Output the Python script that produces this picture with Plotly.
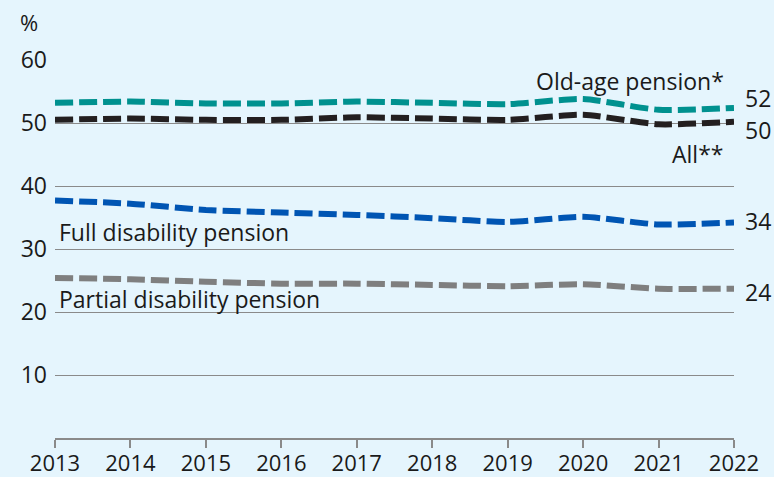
import plotly.graph_objects as go

years = [2013, 2014, 2015, 2016, 2017, 2018, 2019, 2020, 2021, 2022]
old_age = [53.2, 53.4, 53.1, 53.1, 53.4, 53.2, 53.0, 53.8, 52.1, 52.4]
all_pensions = [50.5, 50.7, 50.5, 50.5, 50.9, 50.7, 50.5, 51.3, 49.8, 50.2]
full_disability = [37.7, 37.2, 36.2, 35.8, 35.4, 34.9, 34.3, 35.1, 33.9, 34.2]
partial_disability = [25.4, 25.2, 24.8, 24.5, 24.5, 24.3, 24.1, 24.4, 23.7, 23.7]
end_labels = ["52", "50", "34", "24"]
y_ticks = [10, 20, 30, 40, 50, 60]

FONT = "Open Sans"
BG = "#e5f5fd"
TXT = "#1a1a1a"
SIZE = 23

series = [
    ("Old-age pension*", old_age, "#00918f"),
    ("All**", all_pensions, "#231f20"),
    ("Full disability pension", full_disability, "#0055b3"),
    ("Partial disability pension", partial_disability, "#7f7f7f"),
]

fig = go.Figure()
for name, vals, color in series:
    fig.add_trace(
        go.Scatter(
            x=years,
            y=vals,
            name=name,
            mode="lines",
            line=dict(color=color, width=6, dash="18px,6px", shape="spline", smoothing=0.6),
            showlegend=False,
            hoverinfo="skip",
            cliponaxis=False,
        )
    )

# end-of-line value labels, nudged apart where lines are close
end_y = [54.0, 48.9, 34.5, 23.1]
for txt, yv in zip(end_labels, end_y):
    fig.add_annotation(
        x=years[-1], y=yv, text=txt, showarrow=False,
        xanchor="left", xshift=9, font=dict(family=FONT, size=SIZE, color=TXT),
    )

# series names
fig.add_annotation(x=2021.9, y=56.7, text="Old-age pension*", showarrow=False,
                   xanchor="right", font=dict(family=FONT, size=SIZE, color=TXT))
fig.add_annotation(x=2021.9, y=45.1, text="All**", showarrow=False,
                   xanchor="right", font=dict(family=FONT, size=SIZE, color=TXT))
fig.add_annotation(x=2013, y=32.7, text="Full disability pension", showarrow=False,
                   xanchor="left", xshift=2, font=dict(family=FONT, size=SIZE, color=TXT))
fig.add_annotation(x=2013, y=22.1, text="Partial disability pension", showarrow=False,
                   xanchor="left", xshift=2, font=dict(family=FONT, size=SIZE, color=TXT))

fig.add_annotation(x=-0.055, y=1.10, xref="paper", yref="paper", xanchor="left", yanchor="middle",
                   text="%", showarrow=False, font=dict(family=FONT, size=22, color=TXT))

fig.update_layout(
    width=774,
    height=477,
    margin=dict(l=55, r=40, t=60, b=39),
    paper_bgcolor=BG,
    plot_bgcolor=BG,
    font=dict(family=FONT, size=SIZE, color=TXT),
    xaxis=dict(
        range=[2013, 2022],
        tickvals=years,
        showgrid=False,
        zeroline=False,
        showline=True,
        linecolor="#8a8a8a",
        linewidth=1.5,
        ticks="outside",
        ticklen=8,
        tickcolor="#8a8a8a",
        tickwidth=1.5,
        ticklabelstandoff=-3,
        tickfont=dict(family=FONT, size=22),
        automargin=False,
    ),
    yaxis=dict(
        range=[0, 60],
        tickvals=y_ticks,
        showgrid=True,
        gridcolor="#8a8a8a",
        gridwidth=1,
        zeroline=False,
        showline=False,
        ticklabelstandoff=7,
        tickfont=dict(family=FONT, size=SIZE),
        automargin=False,
    ),
)

fig.write_html("out.html", config={"displayModeBar": False},
               post_script="document.body.style.margin='0';")
